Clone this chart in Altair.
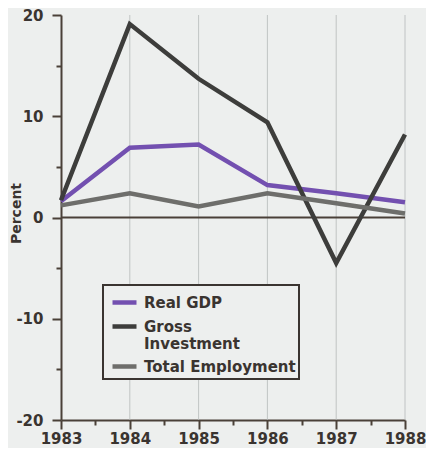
import altair as alt
import pandas as pd

years = [1983, 1984, 1985, 1986, 1987, 1988]
real_gdp = [1.6, 6.9, 7.2, 3.2, 2.4, 1.5]
gross_investment = [1.7, 19.1, 13.7, 9.4, -4.5, 8.2]
total_employment = [1.2, 2.4, 1.1, 2.4, 1.4, 0.4]

series_names = ["Real GDP", "Gross Investment", "Total Employment"]
series_colors = ["#7350b0", "#3d3d3b", "#6e6e6b"]
y_ticks = [-20, -15, -10, -5, 0, 5, 10, 15, 20]
x_ticks = [1983, 1983.5, 1984, 1984.5, 1985, 1985.5, 1986, 1986.5, 1987, 1987.5, 1988]

rows = []
for name, vals in zip(series_names, [real_gdp, gross_investment, total_employment]):
    for y, v in zip(years, vals):
        rows.append({"Year": y, "Value": v, "Series": name})
df = pd.DataFrame(rows)
grid_df = pd.DataFrame({"Year": years[1:]})
zero_df = pd.DataFrame({"Value": [0]})

FONT = "DejaVu Sans"
AXIS_COLOR = "#4a4038"
TEXT_COLOR = "#3a3430"
BG = "#edefee"

x_scale = alt.Scale(domain=[1983, 1988], nice=False, zero=False)
y_scale = alt.Scale(domain=[-20, 20], nice=False)

x_axis = alt.Axis(
    values=x_ticks,
    labelExpr="datum.value % 1 == 0 ? toString(datum.value) : ''",
    title=None,
    grid=False,
    labelFlush=False,
    tickSize={"condition": {"test": "datum.value % 1 == 0", "value": 9}, "value": 5},
    labelPadding=2,
)
y_axis = alt.Axis(
    values=y_ticks,
    labelExpr="datum.value % 10 == 0 ? toString(datum.value) : ''",
    title="Percent",
    grid=False,
    labelFlush=False,
    tickSize={"condition": {"test": "datum.value % 10 == 0", "value": 9}, "value": 5},
    labelPadding=9,
    titleX=-41,
    titleY=198,
    titleAngle=270,
    titleAlign="center",
    titleBaseline="alphabetic",
)

grid = alt.Chart(grid_df).mark_rule(color="#b5b9b9", strokeWidth=0.8).encode(
    x=alt.X("Year:Q", scale=x_scale, axis=x_axis)
)

zero = alt.Chart(zero_df).mark_rule(color=AXIS_COLOR, strokeWidth=2).encode(
    y=alt.Y("Value:Q", scale=y_scale, axis=y_axis)
)

lines = alt.Chart(df).mark_line(strokeWidth=4.5, strokeJoin="miter").encode(
    x=alt.X("Year:Q", scale=x_scale, axis=x_axis),
    y=alt.Y("Value:Q", scale=y_scale, axis=y_axis),
    color=alt.Color(
        "Series:N",
        scale=alt.Scale(domain=series_names, range=series_colors),
        sort=series_names,
        legend=alt.Legend(
            title=None,
            orient="none",
            legendX=42,
            legendY=270,
            symbolType="stroke",
            symbolStrokeWidth=4.5,
            symbolSize=576,
            symbolOffset=4,
            labelFont=FONT,
            labelFontWeight="bold",
            labelFontSize=15,
            labelColor=TEXT_COLOR,
            labelExpr="datum.label == 'Gross Investment' ? ['Gross', 'Investment'] : datum.label",
            labelLimit=240,
            labelOffset=5,
            rowPadding=-5,
            gridAlign="each",
            strokeColor=TEXT_COLOR,
            padding=3,
            fillColor=BG,
        ),
    ),
    order=alt.Order("Year:Q"),
)

chart = (
    alt.layer(grid, zero, lines)
    .properties(
        width=344,
        height=405,
        background=BG,
        padding={"left": 53, "top": 7, "right": 21, "bottom": 28},
        autosize=alt.AutoSizeParams(type="none"),
    )
    .configure_view(stroke=None)
    .configure_legend(strokeWidth=2)
    .configure_axis(
        domainColor=AXIS_COLOR,
        domainWidth=2,
        tickColor=AXIS_COLOR,
        tickWidth=2,
        labelFont=FONT,
        labelFontWeight="bold",
        labelFontSize=15,
        labelColor=TEXT_COLOR,
        titleFont=FONT,
        titleFontWeight="bold",
        titleFontSize=14,
        titleColor=TEXT_COLOR,
    )
)

chart.save("out.html", embed_options={"renderer": "svg", "actions": False})
